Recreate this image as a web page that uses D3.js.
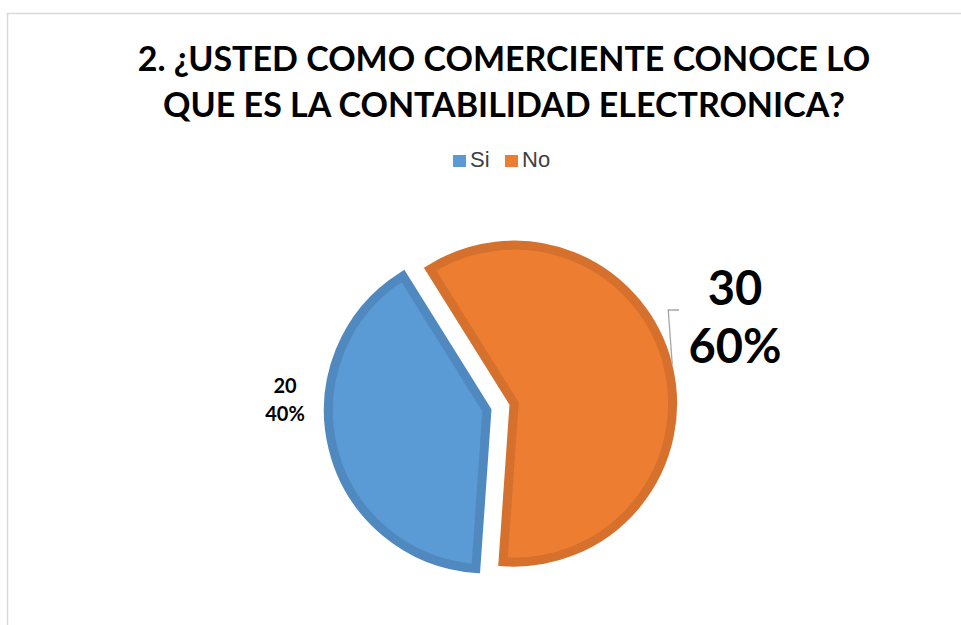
<!DOCTYPE html>
<html>
<head>
<meta charset="utf-8">
<script src="https://cdn.jsdelivr.net/npm/d3@7"></script>
<style>
  html, body { margin: 0; padding: 0; background: #fff; }
  svg { display: block; }
</style>
</head>
<body>
<svg id="chart" width="961" height="625"></svg>
<script>
// Survey answers
const categories = ["Si", "No"];
const counts = [20, 30];
const sliceColors = ["#5B9BD5", "#ED7D31"];
const sliceStrokes = ["#4F89C0", "#D5702D"];
const titleLines = ["2. ¿USTED COMO COMERCIENTE CONOCE LO", "QUE ES LA CONTABILIDAD ELECTRONICA?"];

const W = 961, H = 625;
const svg = d3.select("#chart");

// Chart frame (only the top and left edges fall inside the page)
svg.append("path")
  .attr("d", `M7.5,${H + 5} V13.5 H${W + 5}`)
  .attr("fill", "none").attr("stroke", "#D9D9D9").attr("stroke-width", 1.5);

// Title
const title = svg.append("g")
  .attr("font-family", "Lato, 'Open Sans', sans-serif").attr("font-weight", 700).attr("fill", "#000");
const titleX = 504, titleBase = [71, 117];
titleLines.forEach((t, i) => {
  title.append("text").attr("x", titleX).attr("y", titleBase[i])
    .attr("text-anchor", "middle").attr("font-size", 34).text(t);
});

// Legend
const legend = svg.append("g").attr("font-family", "Liberation Sans, Arial, sans-serif")
  .attr("font-size", 22).attr("fill", "#404040");
const legendX = [453, 505];
categories.forEach((c, i) => {
  legend.append("rect").attr("x", legendX[i]).attr("y", 155).attr("width", 13).attr("height", 12)
    .attr("fill", sliceColors[i]);
  legend.append("text").attr("x", legendX[i] + 17).attr("y", 167).text(c);
});

// Pie, slices pulled apart along their bisectors
const cx = 500.5, cy = 407, radius = 158.5, explode = 14;
const startDeg = 184;
const pie = d3.pie().sort(null)
  .startAngle(startDeg * Math.PI / 180)
  .endAngle((startDeg + 360) * Math.PI / 180);
const arcs = pie(counts);
const arc = d3.arc().innerRadius(0).outerRadius(radius);
const total = d3.sum(counts);

const g = svg.append("g").attr("transform", `translate(${cx},${cy})`);
const mid = d => (d.startAngle + d.endAngle) / 2;
const shift = d => [Math.sin(mid(d)) * explode, -Math.cos(mid(d)) * explode];

g.selectAll("path.slice").data(arcs).join("path")
  .attr("class", "slice")
  .attr("transform", d => `translate(${shift(d)})`)
  .attr("d", arc)
  .attr("fill", (d, i) => sliceColors[i])
  .attr("stroke", (d, i) => sliceStrokes[i])
  .attr("stroke-width", 9)
  .attr("stroke-linejoin", "miter");

// Data labels: count and share
const pct = d3.format(".0%");
const labelSpec = [
  { x: 285, y: 393, size: 20, gap: 28 },
  { x: 735, y: 305, size: 47, gap: 58 }
];
arcs.forEach((d, i) => {
  const s = labelSpec[i];
  const t = g.append("text")
    .attr("font-family", "Lato, 'Open Sans', sans-serif").attr("font-weight", 700)
    .attr("font-size", s.size).attr("text-anchor", "middle").attr("fill", "#000");
  t.append("tspan").attr("x", s.x - cx).attr("y", s.y - cy).text(d.data);
  t.append("tspan").attr("x", s.x - cx).attr("y", s.y - cy + s.gap).text(pct(d.data / total));
});

// Leader line for the larger label, from the slice rim up to the label
const big = arcs[1];
const [sx, sy] = shift(big);
const rimR = radius + 4.5;
const p0 = [sx + Math.sin(mid(big)) * rimR, sy - Math.cos(mid(big)) * rimR];
const elbow = [p0[0] - 4, 310 - cy];
g.append("path")
  .attr("d", d3.line()([p0, elbow, [679 - cx, 310 - cy]]))
  .attr("fill", "none").attr("stroke", "#A6A6A6").attr("stroke-width", 1.3);
</script>
</body>
</html>
